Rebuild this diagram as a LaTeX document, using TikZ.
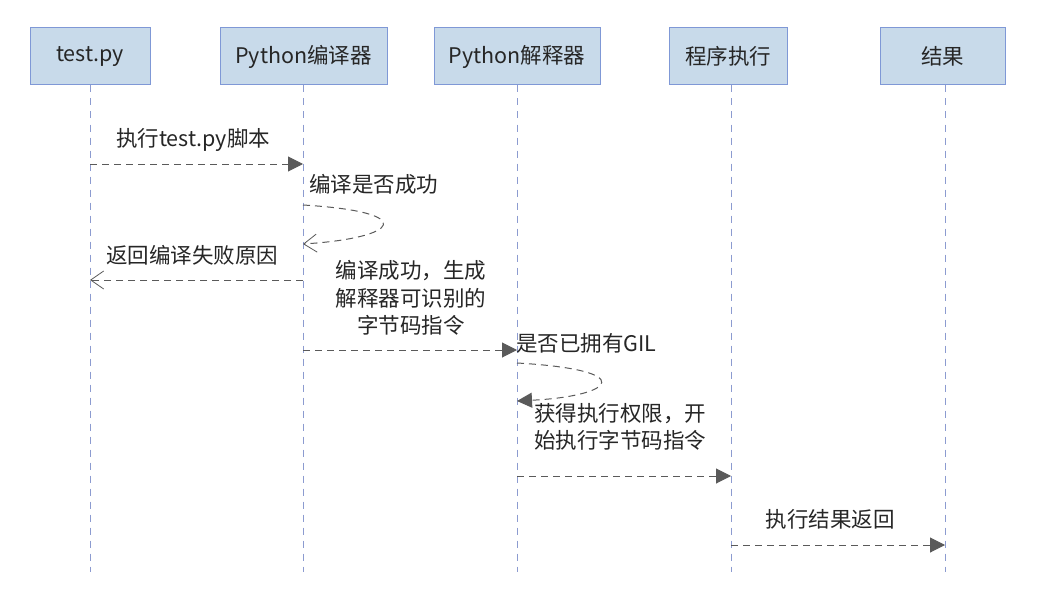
\documentclass[tikz,border=0pt]{standalone}
\usepackage{fontspec}
\setmainfont{Noto Sans CJK SC}
\usetikzlibrary{arrows.meta}
\definecolor{boxfill}{HTML}{C8DAEA}
\definecolor{boxline}{HTML}{7F98D6}
\definecolor{lifeline}{HTML}{8C9BD0}
\definecolor{msg}{HTML}{5A5A5A}
\tikzset{
  actor/.style={draw=boxline, fill=boxfill, line width=1pt, minimum height=57pt, inner sep=0pt, font=\fontsize{21.5}{24}\selectfont, text=black!85},
  lifeln/.style={draw=lifeline, line width=1pt, dash pattern=on 7pt off 6pt},
  msgline/.style={draw=msg, line width=1pt, dash pattern=on 7pt off 5pt},
  fillhead/.style={-{Triangle[length=15pt,width=15pt]}},
  openhead/.style={-{Straight Barb[length=13pt,width=18pt,line width=0.8pt]}},
  lbl/.style={font=\fontsize{21.5}{27.5}\selectfont, text=black!85, inner sep=0pt},
}
\begin{document}
\begin{tikzpicture}[x=1pt,y=-1pt]
\useasboundingbox[fill=white] (0,0) rectangle (1051,607);
% actors
\node[actor, minimum width=120pt] (a) at (90,56.5) {test.py};
\node[actor, minimum width=167pt] (b) at (303.5,56.5) {Python编译器};
\node[actor, minimum width=166pt] (c) at (517,56.5) {Python解释器};
\node[actor, minimum width=118pt] (d) at (728,56.5) {程序执行};
\node[actor, minimum width=125pt] (e) at (942.5,56.5) {结果};
% lifeline ends
\coordinate (ae) at (90,572);
\coordinate (be) at (303,572);
\coordinate (ce) at (517,572);
\coordinate (de) at (731,572);
\coordinate (ee) at (945,572);
\draw[lifeln] (a.south -| ae) -- (ae);
\draw[lifeln] (b.south -| be) -- (be);
\draw[lifeln] (c.south -| ce) -- (ce);
\draw[lifeln] (d.south -| de) -- (de);
\draw[lifeln] (e.south -| ee) -- (ee);
% message points
\coordinate (m1a) at (90,164); \coordinate (m1b) at (303,164);
\coordinate (s1a) at (303,205); \coordinate (s1b) at (303,244);
\coordinate (m2a) at (303,280); \coordinate (m2b) at (90,280);
\coordinate (m3a) at (303,350); \coordinate (m3b) at (517,350);
\coordinate (s2a) at (517,363); \coordinate (s2b) at (517,401);
\coordinate (m4a) at (517,476); \coordinate (m4b) at (731,476);
\coordinate (m5a) at (731,545); \coordinate (m5b) at (945,545);
% messages
\draw[msgline, fillhead] (m1a) -- (m1b);
\node[lbl] (l1) at (193,140) {执行test.py脚本};
\node[lbl, anchor=west] (l2) at (309,184) {编译是否成功};
\draw[msgline, openhead] (s1a) .. controls (420,212) and (400,238) .. (s1b);
\draw[msgline, openhead] (m2a) -- (m2b);
\node[lbl] (l3) at (192,255) {返回编译失败原因};
\node[lbl, align=center] (l4) at (411,298) {编译成功，生成\\解释器可识别的\\字节码指令};
\draw[msgline, fillhead] (m3a) -- (m3b);
\node[lbl, anchor=west] (l5) at (516,343) {是否已拥有GIL};
\draw[msgline, fillhead] (s2a) .. controls (640,370) and (615,396) .. (s2b);
\node[lbl, align=left, anchor=west] (l6) at (534,427) {获得执行权限，开\\始执行字节码指令};
\draw[msgline, fillhead] (m4a) -- (m4b);
\node[lbl] (l7) at (830,519) {执行结果返回};
\draw[msgline, fillhead] (m5a) -- (m5b);
\end{tikzpicture}
\end{document}
